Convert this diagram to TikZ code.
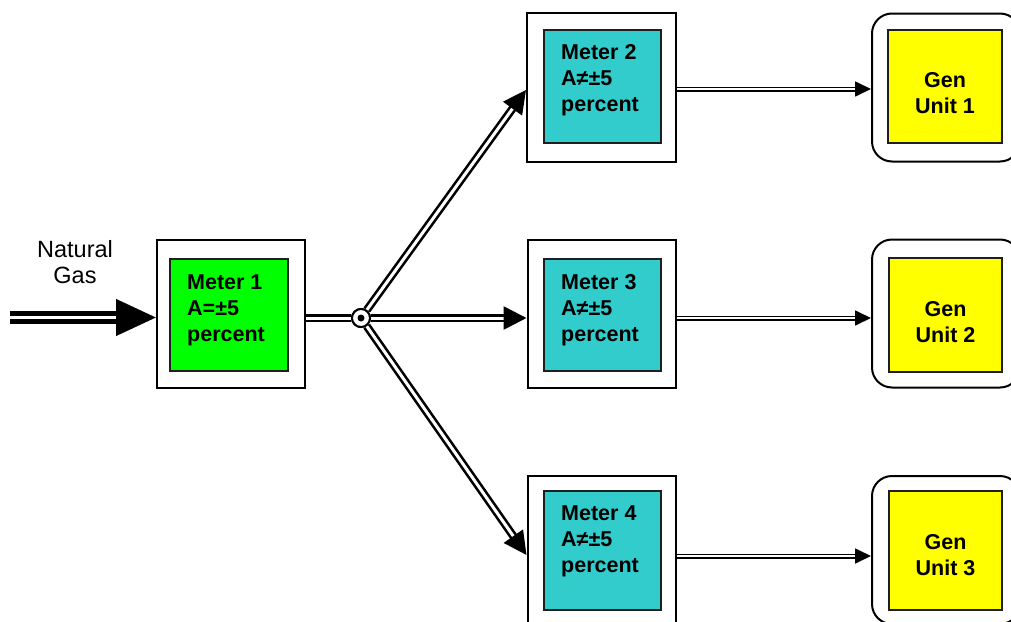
\documentclass[tikz,border=0pt]{standalone}
\usepackage{fontspec}
\setmainfont{Liberation Sans}
\usetikzlibrary{arrows.meta}
\definecolor{metergreen}{RGB}{0,255,0}
\definecolor{meterteal}{RGB}{51,204,204}
\definecolor{genyellow}{RGB}{255,255,0}
\definecolor{edgegray}{RGB}{30,30,30}

\begin{document}
\begin{tikzpicture}[x=1pt,y=-1pt,
  outerbox/.style={draw,line width=2pt,fill=white,minimum width=148pt,minimum height=148pt,inner sep=0pt},
  genbox/.style={outerbox,rounded corners=20pt},
  innerbox/.style={draw=edgegray,line width=1.3pt,inner sep=0pt},
  metertext/.style={font=\fontsize{21.5}{26}\selectfont\bfseries,inner sep=0pt,align=left,anchor=west},
  gentext/.style={font=\fontsize{21.5}{26}\selectfont\bfseries,inner sep=0pt,align=center},
  plaintext/.style={font=\fontsize{23.5}{26}\selectfont,inner sep=0pt,align=center},
  mainpipe/.style={double=white,line width=4.5pt,double distance=3.5pt,-{Triangle[length=40pt,width=36pt]}},
  branchpipe/.style={double=white,line width=2.6pt,double distance=3pt},
  branchtip/.style={branchpipe,-{Triangle[length=23pt,width=23pt]}},
  outpipe/.style={double=white,line width=1.7pt,double distance=1.6pt,-{Triangle[length=16pt,width=15pt]}},
  hub/.style={circle,draw,line width=2pt,fill=white,minimum size=18pt,inner sep=0pt}
]
\clip (0,0) rectangle (1011,621);

% outer frames
\node[outerbox] (m1o) at (231,314) {};
\node[outerbox,minimum width=149pt,minimum height=149pt] (m2o) at (601.5,87.5) {};
\node[outerbox] (m3o) at (601.5,314) {};
\node[outerbox] (m4o) at (601.5,550) {};
\node[genbox] (g1o) at (946,87.5) {};
\node[genbox] (g2o) at (946,313.5) {};
\node[genbox] (g3o) at (946,550) {};

% coloured cores
\node[innerbox,fill=metergreen,minimum width=118pt,minimum height=112pt] (m1i) at (229,315) {};
\node[innerbox,fill=meterteal,minimum width=117pt,minimum height=113pt] (m2i) at (602.5,86.5) {};
\node[innerbox,fill=meterteal,minimum width=117pt,minimum height=112pt] (m3i) at (602.5,315) {};
\node[innerbox,fill=meterteal,minimum width=117pt,minimum height=119pt] (m4i) at (602.5,550.5) {};
\node[innerbox,fill=genyellow,minimum width=114pt,minimum height=113pt] (g1i) at (945,86.5) {};
\node[innerbox,fill=genyellow,minimum width=113pt,minimum height=114pt] (g2i) at (945.5,315) {};
\node[innerbox,fill=genyellow,minimum width=113pt,minimum height=119pt] (g3i) at (945.5,550.5) {};

% labels
\node[metertext] (t1) at (187,310) {Meter 1\\A=±5\\percent};
\node[metertext] (t2) at (561,80) {Meter 2\\A≠±5\\percent};
\node[metertext] (t3) at (561,310) {Meter 3\\A≠±5\\percent};
\node[metertext] (t4) at (561,541) {Meter 4\\A≠±5\\percent};
\node[gentext] (u1) at (945,93.3) {Gen\\Unit 1};
\node[gentext] (u2) at (945.5,322.3) {Gen\\Unit 2};
\node[gentext] (u3) at (945.5,555) {Gen\\Unit 3};
\node[plaintext] (ng) at (75,262) {Natural\\Gas};

% splitting hub
\node[hub] (hub) at (361,318) {};
\coordinate (src) at (10,317.5);

% pipes
\draw[mainpipe] (src) -- (src -| m1o.west);
\draw[branchpipe] (m1o.east |- hub) -- (hub);
\draw[branchtip] (hub) -- ([yshift=-2.5pt]m2o.west);
\draw[branchtip] (hub) -- (hub -| m3o.west);
\draw[branchtip] (hub) -- ([yshift=-5pt]m4o.west);
\draw[outpipe] ([yshift=-1.5pt]m2o.east) -- ([yshift=-1.5pt]m2o.east -| g1o.west);
\draw[outpipe] (m3o.east |- hub) -- (hub -| g2o.west);
\draw[outpipe] ([yshift=-6pt]m4o.east) -- ([yshift=-6pt]m4o.east -| g3o.west);

% hub drawn over the pipe ends
\node[hub] (hubtop) at (hub) {};
\fill (hubtop) circle (3.5pt);
\end{tikzpicture}
\end{document}
